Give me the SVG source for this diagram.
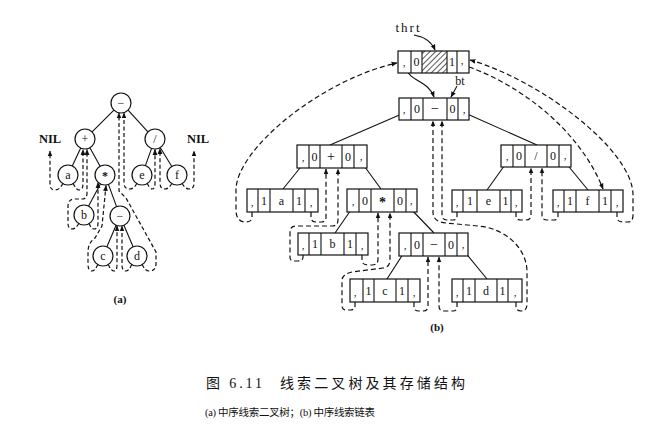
<svg xmlns="http://www.w3.org/2000/svg" width="659" height="426" viewBox="0 0 659 426">
<defs>
<style>
.bx{fill:#fff;stroke:#111;stroke-width:1.2}
.dv{fill:none;stroke:#111;stroke-width:1.1}
.t{font-family:"Liberation Serif",serif;font-size:12px;text-anchor:middle;fill:#111}
.cm{font-family:"Liberation Serif",serif;font-size:11px;text-anchor:middle;fill:#111}
.ed{fill:none;stroke:#111;stroke-width:1.1}
.th{fill:none;stroke:#111;stroke-width:1.2;stroke-dasharray:5 3}
.tha{fill:none;stroke:#111;stroke-width:1.2;stroke-dasharray:4 2.5}
.cap{font-family:"Liberation Serif","Noto Sans CJK SC",serif;fill:#111}
</style>
<marker id="ah" viewBox="0 0 10 10" refX="9" refY="5" markerWidth="6" markerHeight="6" markerUnits="userSpaceOnUse" orient="auto"><path d="M0,1 L10,5 L0,9 z" fill="#111"/></marker>
<pattern id="hatch" patternUnits="userSpaceOnUse" width="4" height="4" patternTransform="rotate(45)"><line x1="0" y1="0" x2="0" y2="4" stroke="#111" stroke-width="1.4"/></pattern>
</defs>
<rect width="659" height="426" fill="#fff"/>

<!-- ===== (a) threaded binary tree ===== -->
<g id="a-edges">
<path class="ed" d="M113.9,110.1 L92.1,131.9 M128.1,110.1 L147.9,131.9 M80.7,148 L72.3,166 M89.9,147.7 L100.1,166.3 M151.6,148.4 L145.4,165.6 M160.2,147.5 L171.8,166.5 M100.4,183.9 L88.6,206.1 M108.4,184.4 L116.6,206.6 M116.1,225.2 L106.9,246.8 M123.9,225.2 L133.1,246.8"/>
</g>
<g id="a-threads">
<path class="tha" marker-end="url(#ah)" d="M63,183 Q60,190 55,190 Q50,190 50,184 V151"/>
<path class="tha" marker-end="url(#ah)" d="M73,183 Q76,190 79,190 Q83,190 83,184 V149.5"/>
<path class="tha" marker-end="url(#ah)" d="M79,223 Q76,229 72,229 Q68,229 68,223 V206 Q68,199 75,199 L82,199 Q87,199 87,193 V149.5"/>
<path class="tha" marker-end="url(#ah)" d="M89,223 Q91,229 94,229 Q98,229 98,223 V182.5"/>
<path class="tha" marker-end="url(#ah)" d="M98,264 Q95,271 92,271 Q88,271 88,264 V252 Q88,243 95,238 L102,226 L106,185.5"/>
<path class="tha" marker-end="url(#ah)" d="M108,264 Q111,271 114,271 Q117,271 117,265 V226"/>
<path class="tha" marker-end="url(#ah)" d="M132,264 Q129,271 126,271 Q122,271 122,265 V226"/>
<path class="tha" marker-end="url(#ah)" d="M142,264 Q145,271 149,271 Q156,271 156,264 V252 L126,198 L119,191 V113"/>
<path class="tha" marker-end="url(#ah)" d="M137,183 Q134,189 130,189 Q124,189 124,183 V113"/>
<path class="tha" marker-end="url(#ah)" d="M147,183 Q150,189 152,189 Q155,189 155,183 V149.5"/>
<path class="tha" marker-end="url(#ah)" d="M172,183 Q169,189 165,189 Q160,189 160,183 V148.5"/>
<path class="tha" marker-end="url(#ah)" d="M182,183 Q185,189 189,189 Q194,189 194,183 V151"/>
</g>
<g id="a-root"><circle class="bx" cx="121" cy="103" r="10"/><text class="t" x="121" y="107">−</text></g>
<g id="a-plus"><circle class="bx" cx="85" cy="139" r="10"/><text class="t" x="85" y="143">+</text></g>
<g id="a-div"><circle class="bx" cx="155" cy="139" r="10"/><text class="t" x="155" y="143">/</text></g>
<g id="a-a"><circle class="bx" cx="68" cy="175" r="10"/><text class="t" x="68" y="179">a</text></g>
<g id="a-mul"><circle class="bx" cx="105" cy="175" r="10"/><text class="t" x="105" y="180" style="font-weight:bold">*</text></g>
<g id="a-e"><circle class="bx" cx="142" cy="175" r="10"/><text class="t" x="142" y="179">e</text></g>
<g id="a-f"><circle class="bx" cx="177" cy="175" r="10"/><text class="t" x="177" y="179">f</text></g>
<g id="a-b"><circle class="bx" cx="84" cy="215" r="10"/><text class="t" x="84" y="219">b</text></g>
<g id="a-minus"><circle class="bx" cx="120" cy="216" r="10"/><text class="t" x="120" y="220">−</text></g>
<g id="a-c"><circle class="bx" cx="103" cy="256" r="10"/><text class="t" x="103" y="260">c</text></g>
<g id="a-d"><circle class="bx" cx="137" cy="256" r="10"/><text class="t" x="137" y="260">d</text></g>
<g id="a-nil-l"><text class="t" x="50" y="143" style="font-size:12.5px;font-weight:bold">NIL</text></g>
<g id="a-nil-r"><text class="t" x="198" y="143" style="font-size:12.5px;font-weight:bold">NIL</text></g>
<text class="t" x="120" y="303" style="font-size:11px;font-weight:bold">(a)</text>

<!-- ===== (b) threaded linked list ===== -->
<g id="b-edges">
<path class="ed" d="M404,113 L330,145 M465,113 L537,145 M304,163 L283,189 M362,163 L381,189 M507,162 L487,190 M565,162 L588,190 M353,207 L335,233 M409,207 L434,233 M405,251 L387,279 M464,251 L487,279"/>
<path class="ed" marker-end="url(#ah)" d="M414,35 Q430,38 435,50"/>
<path class="ed" marker-end="url(#ah)" d="M406,68 C410,82 428,80 434,97"/>
<path class="ed" marker-end="url(#ah)" d="M457,86 L451,97"/>
</g>
<g id="b-threads">
<path class="th" marker-end="url(#ah)" d="M252,212 V217 Q252,222 246,222 Q236,222 236,210 V190 C236,150 320,80 397,63"/>
<path class="th" marker-end="url(#ah)" d="M311,212 V217 Q311,222 316,222 L321,222 Q326,222 326,217 V169"/>
<path class="th" marker-end="url(#ah)" d="M303,255 V257 Q303,261 298,261 L294,261 Q290,261 290,257 V232 Q290,226 296,226 L332,226 Q338,226 338,220 V169"/>
<path class="th" marker-end="url(#ah)" d="M362,255 V260 Q362,265 368,265 L372,265 Q378,265 378,259 V213"/>
<path class="th" marker-end="url(#ah)" d="M355,302 V306 Q355,310 350,310 L346,310 Q342,310 342,305 V281 Q342,274 352,272 L383,268 Q390,267 390,260 V213"/>
<path class="th" marker-end="url(#ah)" d="M414,302 V307 Q414,311 419,311 L423,311 Q428,311 428,306 V257"/>
<path class="th" marker-end="url(#ah)" d="M457,302 V307 Q457,311 453,311 L444,311 Q439,311 439,306 V257"/>
<path class="th" marker-end="url(#ah)" d="M516,302 V306 Q516,311 521,311 Q527,311 527,304 V272 C527,248 505,228 478,226 L446,223 Q433,222 433,212 V121"/>
<path class="th" marker-end="url(#ah)" d="M457,212 V216 Q457,220 453,220 L447,220 Q442,220 442,215 V121"/>
<path class="th" marker-end="url(#ah)" d="M516,212 V216 Q516,220 521,220 L526,220 Q531,220 531,215 V168"/>
<path class="th" marker-end="url(#ah)" d="M558,212 V216 Q558,220 554,220 L547,220 Q542,220 542,215 V168"/>
<path class="th" marker-end="url(#ah)" d="M617,212 V217 Q617,222 623,222 L628,222 Q633,222 633,215 V195 C633,150 540,80 470,60"/>
<path class="th" marker-end="url(#ah)" d="M469,67 C520,85 580,130 603,189"/>
</g>

<g id="b-head">
<rect class="bx" x="398" y="51" width="71" height="22"/>
<rect x="422" y="51" width="25" height="22" fill="url(#hatch)"/>
<path class="dv" d="M411,51 V73 M422,51 V73 M447,51 V73 M457,51 V73"/>
<text class="cm" x="404" y="66">,</text><text class="t" x="416.5" y="66">0</text><text class="t" x="452" y="66">1</text><text class="cm" x="462" y="64">,</text>
<text class="t" x="407.5" y="32" style="font-size:13px" textLength="24" lengthAdjust="spacing">thrt</text>
<text class="t" x="460" y="85" style="font-size:12px">bt</text>
</g>
<g id="b-root">
<rect class="bx" x="399" y="98" width="70" height="22"/>
<path class="dv" d="M411,98 V120 M423,98 V120 M447,98 V120 M458,98 V120"/>
<text class="cm" x="404" y="113">,</text><text class="t" x="417" y="113">0</text><text class="t" x="435" y="113" style="font-size:14px">−</text><text class="t" x="452.5" y="113">0</text><text class="cm" x="464" y="113">,</text>
</g>
<g id="b-plus">
<rect class="bx" x="297" y="145" width="70" height="23"/>
<path class="dv" d="M309,145 V168 M320,145 V168 M342,145 V168 M354,145 V168"/>
<text class="cm" x="303" y="161">,</text><text class="t" x="314.5" y="161">0</text><text class="t" x="331" y="161" style="font-size:14px">+</text><text class="t" x="348" y="161">0</text><text class="cm" x="361" y="160">,</text>
</g>
<g id="b-div">
<rect class="bx" x="501" y="145" width="70" height="22"/>
<path class="dv" d="M513,145 V167 M525,145 V167 M547,145 V167 M559,145 V167"/>
<text class="cm" x="507" y="160">,</text><text class="t" x="519" y="160">0</text><text class="t" x="536" y="160">/</text><text class="t" x="553" y="160">0</text><text class="cm" x="565" y="159">,</text>
</g>
<g id="b-mul">
<rect class="bx" x="347" y="189" width="70" height="23"/>
<path class="dv" d="M359,189 V212 M371,189 V212 M394,189 V212 M406,189 V212"/>
<text class="cm" x="353" y="205">,</text><text class="t" x="365" y="205">0</text><text class="t" x="382.5" y="207" style="font-size:14px;font-weight:bold">*</text><text class="t" x="400" y="205">0</text><text class="cm" x="411" y="204">,</text>
</g>
<g id="b-minus">
<rect class="bx" x="399" y="233" width="69" height="23"/>
<path class="dv" d="M411,233 V256 M423,233 V256 M445,233 V256 M457,233 V256"/>
<text class="cm" x="405" y="249">,</text><text class="t" x="417" y="249">0</text><text class="t" x="434" y="249" style="font-size:14px">−</text><text class="t" x="451" y="249">0</text><text class="cm" x="463" y="248">,</text>
</g>
<g id="b-a">
<rect class="bx" x="247" y="189" width="71" height="23"/>
<path class="dv" d="M258,189 V212 M270,189 V212 M293,189 V212 M305,189 V212"/>
<text class="cm" x="252" y="206">,</text><text class="t" x="264" y="205">1</text><text class="t" x="281.5" y="205">a</text><text class="t" x="299" y="205">1</text><text class="cm" x="311" y="206">,</text>
</g>
<g id="b-b">
<rect class="bx" x="298" y="233" width="70" height="22"/>
<path class="dv" d="M309,233 V255 M321,233 V255 M344,233 V255 M356,233 V255"/>
<text class="cm" x="303" y="249">,</text><text class="t" x="315" y="248">1</text><text class="t" x="332.5" y="248">b</text><text class="t" x="350" y="248">1</text><text class="cm" x="362" y="249">,</text>
</g>
<g id="b-c">
<rect class="bx" x="350" y="279" width="70" height="23"/>
<path class="dv" d="M363,279 V302 M374,279 V302 M396,279 V302 M408,279 V302"/>
<text class="cm" x="355" y="296">,</text><text class="t" x="368.5" y="295">1</text><text class="t" x="385" y="295">c</text><text class="t" x="402" y="295">1</text><text class="cm" x="414" y="296">,</text>
</g>
<g id="b-d">
<rect class="bx" x="452" y="279" width="70" height="23"/>
<path class="dv" d="M463,279 V302 M475,279 V302 M497,279 V302 M508,279 V302"/>
<text class="cm" x="457" y="296">,</text><text class="t" x="469" y="295">1</text><text class="t" x="486" y="295">d</text><text class="t" x="502.5" y="295">1</text><text class="cm" x="515" y="296">,</text>
</g>
<g id="b-e">
<rect class="bx" x="452" y="190" width="70" height="22"/>
<path class="dv" d="M463,190 V212 M477,190 V212 M500,190 V212 M511,190 V212"/>
<text class="cm" x="457" y="206">,</text><text class="t" x="470" y="205">1</text><text class="t" x="488.5" y="205">e</text><text class="t" x="505.5" y="205">1</text><text class="cm" x="516" y="206">,</text>
</g>
<g id="b-f">
<rect class="bx" x="553" y="190" width="70" height="22"/>
<path class="dv" d="M564,190 V212 M576,190 V212 M599,190 V212 M611,190 V212"/>
<text class="cm" x="558" y="206">,</text><text class="t" x="570" y="205">1</text><text class="t" x="587.5" y="205">f</text><text class="t" x="605" y="205">1</text><text class="cm" x="617" y="206">,</text>
</g>
<text class="t" x="437" y="331" style="font-size:11px;font-weight:bold">(b)</text>

<!-- ===== caption ===== -->
<text class="cap" x="206" y="388" style="font-size:14px" textLength="56" lengthAdjust="spacing">图 6.11</text>
<text class="cap" x="280" y="388" style="font-size:14px" textLength="185" lengthAdjust="spacing">线索二叉树及其存储结构</text>
<text class="cap" x="205" y="416" style="font-size:10.5px" textLength="170" lengthAdjust="spacing">(a) 中序线索二叉树；(b) 中序线索链表</text>
</svg>
